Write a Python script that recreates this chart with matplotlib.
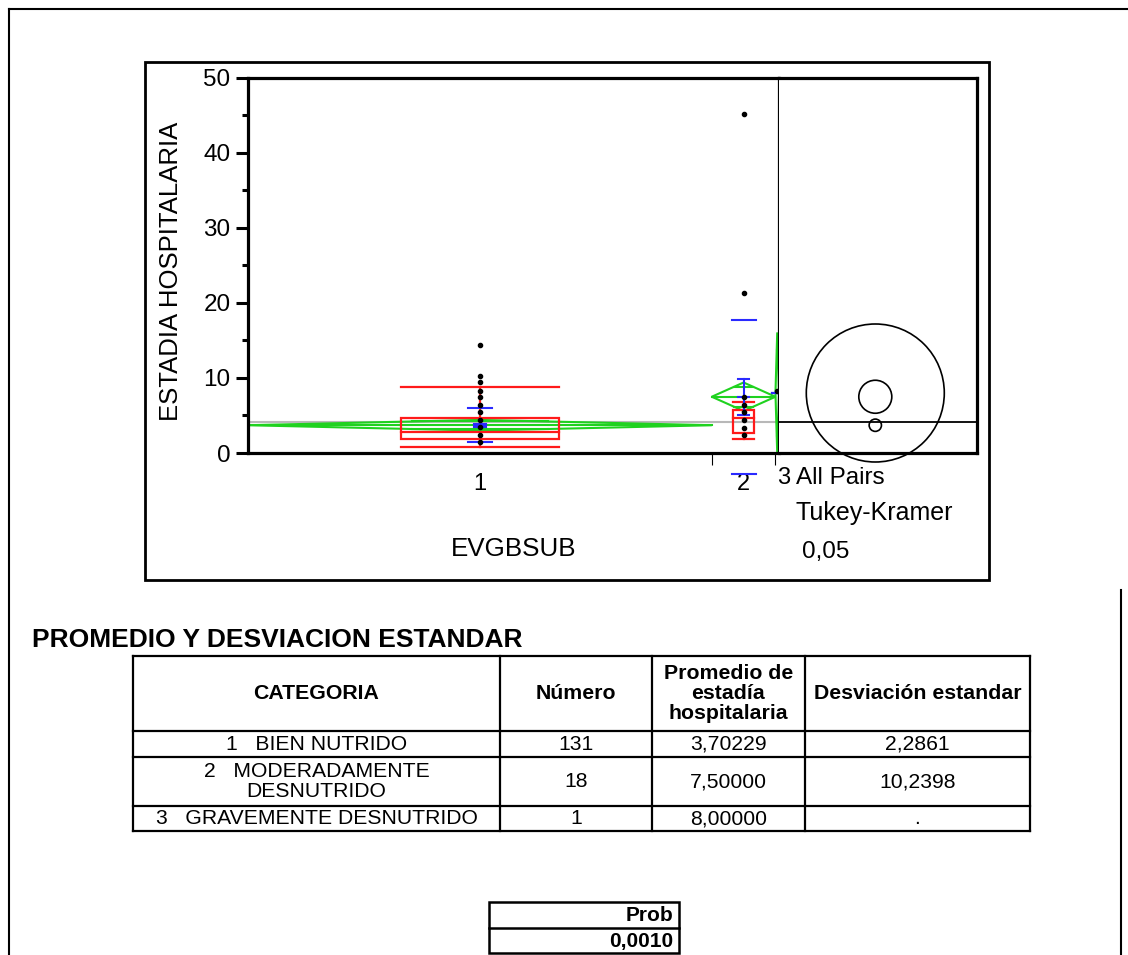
import matplotlib.pyplot as plt
from matplotlib.patches import Rectangle, Circle, Polygon

plt.rcParams['font.family'] = ['Liberation Sans', 'DejaVu Sans']

# ---- data ----
groups = ['1', '2', '3']
group_n = [131, 18, 1]
group_mean = [3.70229, 7.5, 8.0]
grand_mean = 4.19

pts_g1 = [1.4, 2.4, 3.4, 4.4, 5.4, 6.4, 7.4, 8.3, 9.4, 10.3, 14.4]
pts_g2 = [2.4, 3.3, 4.4, 5.4, 6.4, 7.4, 21.3, 45.2]
pts_g3 = [8.3]

# red box plots (groups 1 and 2)
box_lo = [0.8, 1.9]
box_q1 = [1.8, 2.7]
box_med = [2.8, 4.6]
box_q3 = [4.6, 5.7]
box_hi = [8.8, 6.8]

# green means diamonds
ci_lo = [2.99, 5.6, -0.08]
ci_hi = [4.41, 9.4, 16.08]

# blue std dev lines and std error bars
sd_lo = [1.42, -2.74]
sd_hi = [5.99, 17.74]
se_lo = [3.5, 5.09, 8.0]
se_hi = [3.9, 9.91, 8.0]

# comparison circles (Tukey-Kramer)
circle_r = [0.82, 2.2, 9.2]

# table
headers = ['CATEGORIA', 'Número', 'Promedio de\nestadía\nhospitalaria', 'Desviación estandar']
categoria = ['1   BIEN NUTRIDO', '2   MODERADAMENTE\nDESNUTRIDO', '3   GRAVEMENTE DESNUTRIDO']
numero = ['131', '18', '1']
promedio = ['3,70229', '7,50000', '8,00000']
desviacion = ['2,2861', '10,2398', '.']
prob_label = 'Prob'
prob_value = '0,0010'

# ---- figure ----
fig = plt.figure(figsize=(11.28, 9.55), dpi=100)

# overlay in pixel coordinates for frames and tables
bg = fig.add_axes([0, 0, 1, 1])
bg.set_xlim(0, 1128)
bg.set_ylim(955, 0)
bg.axis('off')

bg.plot([9, 1128], [9, 9], color='black', lw=1.5)
bg.plot([9, 9], [9, 955], color='black', lw=1.5)
bg.plot([1121, 1121], [590, 955], color='black', lw=1.5)
bg.add_patch(Rectangle((145, 62), 844, 518, fill=False, ec='black', lw=2))

# main oneway plot
ax = fig.add_axes([248 / 1128, 1 - 453 / 955, 531 / 1128, 375 / 955])
ax2 = fig.add_axes([779 / 1128, 1 - 453 / 955, 198 / 1128, 375 / 955])

starts = [sum(group_n[:i]) for i in range(3)]
ends = [sum(group_n[:i + 1]) for i in range(3)]
centers = [(s + e) / 2 for s, e in zip(starts, ends)]
total = sum(group_n)

ax.set_xlim(0, total)
ax.set_ylim(0, 50)

green = '#1fd21f'
red = '#ff1a1a'
blue = '#2a2aff'

ax.axhline(grand_mean, color='#b8b8b8', lw=1.5, zorder=1)

# means diamonds
for i in range(3):
    s, e, c, m = starts[i], ends[i], centers[i], group_mean[i]
    diamond = Polygon([[s, m], [c, ci_hi[i]], [e, m], [c, ci_lo[i]]],
                      closed=True, fill=False, ec=green, lw=1.5, zorder=2)
    ax.add_patch(diamond)
    ax.plot([s, e], [m, m], color=green, lw=1.5, zorder=2)
    h = (ci_hi[i] - m) / 2 ** 0.5
    w = (e - s) * (1 - 1 / 2 ** 0.5) / 2
    for y in (m + h, m - h):
        ax.plot([c - w, c + w], [y, y], color=green, lw=1.5, zorder=2)

# box plots
for i in range(2):
    c = centers[i]
    bw = 0.34 * group_n[i]
    ax.add_patch(Rectangle((c - bw / 2, box_q1[i]), bw, box_q3[i] - box_q1[i],
                           fill=False, ec=red, lw=1.6, zorder=3))
    ax.plot([c - bw / 2, c + bw / 2], [box_med[i]] * 2, color=red, lw=1.6, zorder=3)
    ax.plot([c, c], [box_q3[i], box_hi[i]], color=red, lw=1.6, zorder=3)
    ax.plot([c, c], [box_q1[i], box_lo[i]], color=red, lw=1.6, zorder=3)
    for y in (box_lo[i], box_hi[i]):
        ax.plot([c - bw / 2, c + bw / 2], [y, y], color=red, lw=1.6, zorder=3)

# std dev lines
for i in range(2):
    c = centers[i]
    for y in (sd_lo[i], sd_hi[i]):
        ax.plot([c - 3.4, c + 3.4], [y, y], color=blue, lw=1.5, zorder=4, clip_on=False)

# std error bars
for i in range(3):
    c = centers[i]
    ax.plot([c, c], [se_lo[i], se_hi[i]], color=blue, lw=1.5, zorder=4)
    for y in (se_lo[i], se_hi[i], group_mean[i]):
        ax.plot([c - 1.6, c + 1.6], [y, y], color=blue, lw=1.5, zorder=4)

# points
for c, p in zip(centers, [pts_g1, pts_g2, pts_g3]):
    ax.plot([c] * len(p), p, 'o', color='black', ms=3, zorder=5)

for side in ['left', 'bottom', 'top']:
    ax.spines[side].set_linewidth(2.3)
ax.spines['right'].set_linewidth(1.6)

ax.set_yticks([0, 10, 20, 30, 40, 50])
ax.set_yticks([5, 15, 25, 35, 45], minor=True)
ax.tick_params(axis='y', which='major', length=8.6, width=2.2, labelsize=17.5, pad=4)
ax.tick_params(axis='y', which='minor', length=4.3, width=2.2)
ax.set_xticks([ends[0], ends[1]])
ax.set_xticklabels([])
ax.tick_params(axis='x', length=8.6, width=0.8)

for i, g in enumerate(groups):
    if i < 2:
        ax.text(centers[i], -0.082, g, transform=ax.get_xaxis_transform(),
                ha='center', va='center', fontsize=17, clip_on=False)
    else:
        ax.text(centers[i], -0.068, g, transform=ax.get_xaxis_transform(),
                ha='left', va='center', fontsize=17, clip_on=False)

ax.text(0.5, -0.255, 'EVGBSUB', transform=ax.transAxes, ha='center', va='center',
        fontsize=18.7)
ax.text(-0.145, 0.484, 'ESTADIA HOSPITALARIA', transform=ax.transAxes, rotation=90,
        ha='center', va='center', fontsize=18.5)

# comparison circles panel
ax2.set_xlim(0, 198 / 7.5)
ax2.set_ylim(0, 50)
ax2.set_xticks([])
ax2.set_yticks([])
ax2.spines['left'].set_visible(False)
for side in ['right', 'bottom', 'top']:
    ax2.spines[side].set_linewidth(2.3)
ax2.axhline(grand_mean, color='black', lw=1.3)
for m, r in zip(group_mean, circle_r):
    ax2.add_patch(Circle((12.84, m), r, fill=False, ec='black', lw=1.2, clip_on=False))

ax2.text(0.086, -0.066, 'All Pairs', transform=ax2.transAxes, ha='left', va='center', fontsize=17.5)
ax2.text(0.081, -0.160, 'Tukey-Kramer', transform=ax2.transAxes, ha='left', va='center', fontsize=18)
ax2.text(0.115, -0.263, '0,05', transform=ax2.transAxes, ha='left', va='center', fontsize=17.5)

# ---- table ----
bg.text(32, 640, 'PROMEDIO Y DESVIACION ESTANDAR', ha='left', va='center',
        fontsize=19, fontweight='bold')

cols = [133, 500, 652, 805, 1030]
rows = [656, 731, 757, 806, 831]
for x in cols:
    bg.plot([x, x], [rows[0], rows[-1]], color='black', lw=1.6)
for y in rows:
    bg.plot([cols[0], cols[-1]], [y, y], color='black', lw=1.6)

col_c = [(cols[j] + cols[j + 1]) / 2 for j in range(4)]
for j, htxt in enumerate(headers):
    bg.text(col_c[j], (rows[0] + rows[1]) / 2, htxt, ha='center', va='center',
            fontsize=15.3, fontweight='bold', linespacing=1.05)
for i in range(3):
    yc = (rows[i + 1] + rows[i + 2]) / 2
    for j, val in enumerate([categoria[i], numero[i], promedio[i], desviacion[i]]):
        bg.text(col_c[j], yc, val, ha='center', va='center', fontsize=15.2, linespacing=1.05)

# prob box
bg.add_patch(Rectangle((489, 902), 190, 51, fill=False, ec='black', lw=1.8))
bg.plot([489, 679], [928, 928], color='black', lw=1.8)
bg.text(673, 915, prob_label, ha='right', va='center', fontsize=15, fontweight='bold')
bg.text(673, 941, prob_value, ha='right', va='center', fontsize=15, fontweight='bold')

fig.savefig('out.png', dpi=100)
